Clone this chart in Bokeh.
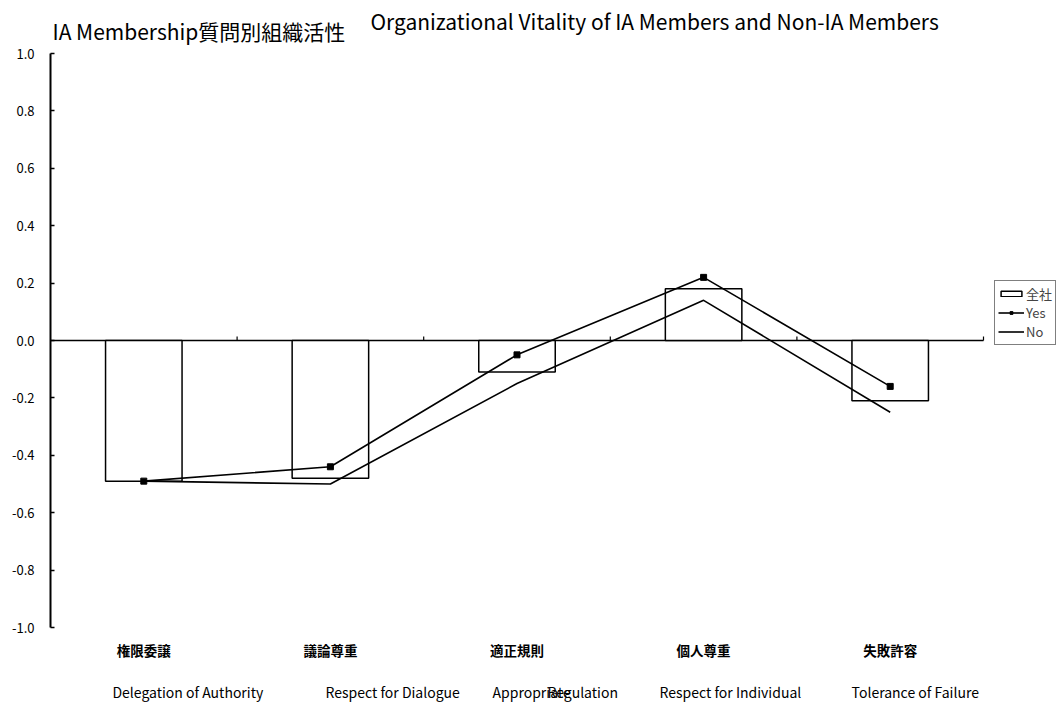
from bokeh.plotting import figure
from bokeh.models import Range1d, FixedTicker, Legend, LegendItem, NumeralTickFormatter
from bokeh.core.properties import value
from bokeh.embed import file_html
from bokeh.resources import INLINE

# ---- data -------------------------------------------------------------
categories_ja = ["権限委譲", "議論尊重", "適正規則", "個人尊重", "失敗許容"]
en_pieces = ["Delegation of Authority", "Respect for Dialogue", "Appropriate",
             "Regulation", "Respect for Individual", "Tolerance of Failure"]
en_piece_cat = [0, 1, 2, 2, 3, 4]          # category each English piece belongs to
company = [-0.49, -0.48, -0.11, 0.18, -0.21]   # 全社
yes = [-0.49, -0.44, -0.05, 0.22, -0.16]       # IA members
no = [-0.49, -0.50, -0.15, 0.14, -0.25]        # non-IA members
y_ticks = [-1.0, -0.8, -0.6, -0.4, -0.2, 0.0, 0.2, 0.4, 0.6, 0.8, 1.0]
title_left = "IA Membership質問別組織活性"
title_right = "Organizational Vitality of IA Members and Non-IA Members"

# ---- layout -----------------------------------------------------------
FONT = "Noto Sans CJK JP"
W, H = 1059, 705
LEFT = 50
PX_X = 186.6          # pixels per category
PX_Y = 287.0          # pixels per unit of y
ZERO_PX = 340         # canvas row of y = 0
TICK_PX = 4
en_dx = [-0.168, -0.026, -0.131, 0.163, -0.236, -0.207]
ja_y, en_y = -1.08, -1.226

n = len(categories_ja)
centers = [i + 0.5 for i in range(n)]
boundaries = list(range(1, n + 1))

p = figure(width=W, height=H,
           x_range=Range1d(0, (W - LEFT) / PX_X),
           y_range=Range1d(-(H - ZERO_PX) / PX_Y, ZERO_PX / PX_Y),
           x_axis_location=None,
           output_backend="svg", toolbar_location=None,
           min_border_left=LEFT, min_border_right=0,
           min_border_top=0, min_border_bottom=0)
p.outline_line_color = None
p.grid.visible = False
p.background_fill_color = "white"

# y axis
ya = p.yaxis[0]
ya.bounds = (-1, 1)
ya.ticker = FixedTicker(ticks=y_ticks)
ya.formatter = NumeralTickFormatter(format="0.0")
ya.major_tick_in = 4
ya.major_tick_out = 0
ya.minor_tick_line_color = None
ya.axis_line_width = 2
ya.major_tick_line_width = 1.5
ya.major_label_text_font = FONT
ya.major_label_text_font_size = "13px"
ya.major_label_text_color = "black"
ya.major_label_standoff = 16

# category axis along y = 0 with small ticks at the category boundaries
p.segment(x0=[0], y0=[0], x1=[n], y1=[0], line_color="black", line_width=1.5)
p.segment(x0=boundaries, y0=[0] * n, x1=boundaries, y1=[TICK_PX / PX_Y] * n,
          line_color="black", line_width=1.2)

bars = p.vbar(x=centers, width=0.41, top=company, bottom=0,
              fill_color="white", line_color="black", line_width=1.5)
no_line = p.line(centers, no, line_color="black", line_width=1.6)
yes_line = p.line(centers, yes, line_color="black", line_width=1.6)
yes_pts = p.scatter(centers, yes, marker="square", size=6,
                    fill_color="black", line_color="black")

# category labels
p.text(x=centers, y=[ja_y] * n, text=categories_ja,
       text_font=value(FONT), text_font_style="bold", text_font_size="13.5px",
       text_align="center", text_baseline="middle", text_color="black")
p.text(x=[en_piece_cat[i] + 0.5 + en_dx[i] for i in range(len(en_pieces))],
       y=[en_y] * len(en_pieces), text=en_pieces,
       text_font=value(FONT), text_font_size="14px",
       text_align="left", text_baseline="middle", text_color="black")

# titles
p.text(x=[(52 - LEFT) / PX_X], y=[(ZERO_PX - 30) / PX_Y], text=[title_left],
       text_font=value(FONT), text_font_size="21px",
       text_align="left", text_baseline="middle", text_color="black")
p.text(x=[(370 - LEFT) / PX_X], y=[(ZERO_PX - 20) / PX_Y], text=[title_right],
       text_font=value(FONT), text_font_size="21px",
       text_align="left", text_baseline="middle", text_color="black")

legend = Legend(items=[LegendItem(label="全社", renderers=[bars]),
                       LegendItem(label="Yes", renderers=[yes_line, yes_pts]),
                       LegendItem(label="No", renderers=[no_line])],
                location=(944, 360),
                border_line_color="black", border_line_width=1,
                padding=3, spacing=0, margin=0,
                glyph_width=26, glyph_height=7, label_height=17,
                label_standoff=2,
                label_text_font=FONT, label_text_font_size="13px",
                background_fill_color="white", background_fill_alpha=1)
p.add_layout(legend)

open("out.html", "w").write(file_html(p, INLINE))
